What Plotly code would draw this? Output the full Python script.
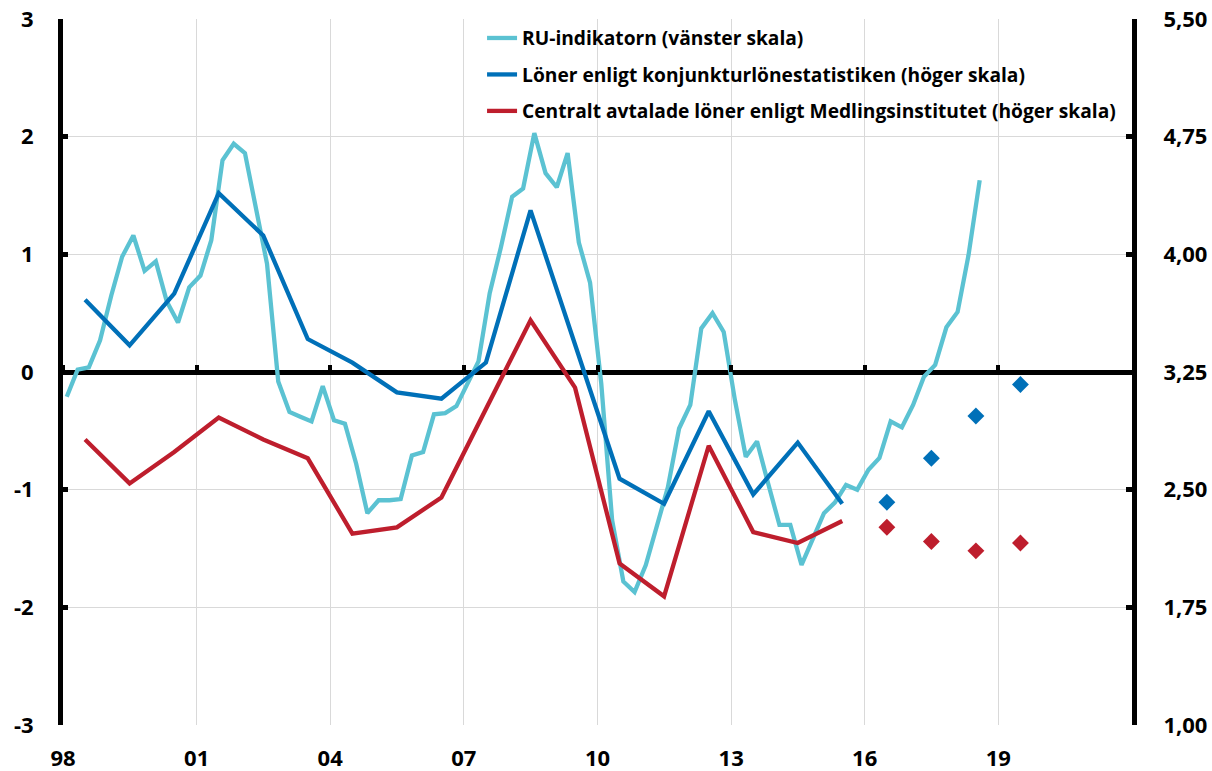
import pandas as pd
import plotly.graph_objects as go

# RU-indikatorn, kvartal 1998 K1 - 2018 K3 (vänster skala)
ru_indicator = [
    -0.21, 0.02, 0.04, 0.27, 0.65, 0.98, 1.16, 0.86, 0.94, 0.60,
    0.42, 0.72, 0.82, 1.12, 1.80, 1.94, 1.86, 1.40, 0.92, -0.08,
    -0.34, -0.38, -0.42, -0.12, -0.41, -0.44, -0.78, -1.20, -1.09, -1.09,
    -1.08, -0.71, -0.68, -0.36, -0.35, -0.29, -0.10, 0.09, 0.67, 1.06,
    1.49, 1.56, 2.03, 1.69, 1.57, 1.86, 1.10, 0.76, -0.10, -1.26,
    -1.78, -1.87, -1.64, -1.32, -0.98, -0.48, -0.28, 0.37, 0.50, 0.34,
    -0.24, -0.72, -0.59, -0.95, -1.30, -1.30, -1.64, -1.42, -1.20, -1.11,
    -0.96, -1.00, -0.83, -0.73, -0.42, -0.47, -0.28, -0.04, 0.06, 0.38,
    0.51, 0.99, 1.63,
]

# Årliga löneökningar, utfall 1998-2015 (höger skala)
wage_years = list(range(1998, 2016))
wages_kls = [
    3.71, 3.42, 3.75, 4.39, 4.12, 3.46, 3.31, 3.12, 3.08, 3.31,
    4.28, 3.43, 2.57, 2.41, 3.00, 2.47, 2.80, 2.41,
]
wages_mi = [
    2.82, 2.54, 2.74, 2.96, 2.82, 2.70, 2.22, 2.26, 2.45, 3.01,
    3.58, 3.15, 2.03, 1.82, 2.78, 2.23, 2.16, 2.30,
]

# Prognoser 2016-2019 (höger skala)
forecast_years = [2016, 2017, 2018, 2019]
forecast_kls = [2.42, 2.70, 2.97, 3.17]
forecast_mi = [2.26, 2.17, 2.11, 2.16]

# Axelmarkeringar
x_tick_years = [1998, 2001, 2004, 2007, 2010, 2013, 2016, 2019]
x_tick_text = ["98", "01", "04", "07", "10", "13", "16", "19"]
left_ticks = [-3, -2, -1, 0, 1, 2, 3]
left_tick_text = ["-3", "-2", "-1", "0", "1", "2", "3"]
right_ticks = [1.00, 1.75, 2.50, 3.25, 4.00, 4.75, 5.50]

CYAN = "#5BC2D2"
BLUE = "#0070B8"
RED = "#BE1E2D"
FONT = "Open Sans"

quarter_dates = [
    p.start_time + pd.DateOffset(months=1)
    for p in pd.period_range("1998Q1", periods=len(ru_indicator), freq="Q")
]
year_mid = lambda ys: [pd.Timestamp(year=y, month=7, day=1) for y in ys]
tick_dates = [pd.Timestamp(year=y, month=1, day=1) for y in x_tick_years]
x_range = [pd.Timestamp("1998-01-01"), pd.Timestamp("2022-01-01")]

fig = go.Figure()

fig.add_trace(go.Scatter(
    x=quarter_dates, y=ru_indicator, mode="lines",
    line=dict(color=CYAN, width=4.3),
    name="RU-indikatorn (vänster skala)", legendgroup="a",
))
fig.add_trace(go.Scatter(
    x=year_mid(wage_years), y=wages_kls, mode="lines", yaxis="y2",
    line=dict(color=BLUE, width=4.3),
    name="Löner enligt konjunkturlönestatistiken (höger skala)", legendgroup="b",
))
fig.add_trace(go.Scatter(
    x=year_mid(wage_years), y=wages_mi, mode="lines", yaxis="y2",
    line=dict(color=RED, width=4.3),
    name="Centralt avtalade löner enligt Medlingsinstitutet (höger skala)", legendgroup="c",
))
fig.add_trace(go.Scatter(
    x=year_mid(forecast_years), y=forecast_kls, mode="markers", yaxis="y2",
    marker=dict(symbol="diamond", size=13, color=BLUE),
    showlegend=False,
))
fig.add_trace(go.Scatter(
    x=year_mid(forecast_years), y=forecast_mi, mode="markers", yaxis="y2",
    marker=dict(symbol="diamond", size=13, color=RED),
    showlegend=False,
))
# empty trace so the tick axis drawn along the zero line gets its own subplot
fig.add_trace(go.Scatter(x=[], y=[], xaxis="x2", yaxis="y", showlegend=False,
                         hoverinfo="skip"))

tick_font = dict(family=FONT, size=22, color="black", weight="bold")

fig.update_layout(
    width=1212, height=771,
    margin=dict(l=63, r=80, t=19, b=46, autoexpand=False),
    paper_bgcolor="white", plot_bgcolor="white",
    separators=", ",
    font=dict(family=FONT, color="black"),
    showlegend=True,
    legend=dict(
        x=0.392, y=1.0, xanchor="left", yanchor="top",
        bgcolor="rgba(0,0,0,0)",
        font=dict(family=FONT, size=19.2, color="black", weight="bold"),
        traceorder="grouped", tracegroupgap=8.5,
    ),
    xaxis=dict(
        type="date", range=x_range, automargin=False,
        tickvals=tick_dates, ticktext=x_tick_text,
        showgrid=True, gridcolor="#D9D9D9", gridwidth=1,
        showline=False, zeroline=False, ticks="",
        tickfont=tick_font, ticklabelstandoff=18,
    ),
    xaxis2=dict(
        type="date", range=x_range, overlaying="x", automargin=False,
        anchor="free", position=0.5, side="top",
        tickvals=tick_dates, showticklabels=False,
        ticks="outside", ticklen=7, tickwidth=4, tickcolor="black",
        showgrid=False, showline=False, zeroline=False,
    ),
    yaxis=dict(
        range=[-3, 3], tickvals=left_ticks, ticktext=left_tick_text,
        automargin=False,
        showgrid=True, gridcolor="#D9D9D9", gridwidth=1,
        zeroline=True, zerolinecolor="black", zerolinewidth=5,
        showline=True, linecolor="black", linewidth=5,
        ticks="inside", ticklen=5, tickwidth=5, tickcolor="black",
        tickfont=tick_font, ticklabelstandoff=20,
    ),
    yaxis2=dict(
        range=[1, 5.5], tickvals=right_ticks, tickformat=".2f",
        overlaying="y", side="right", anchor="x", automargin=False,
        showgrid=False, zeroline=False,
        showline=True, linecolor="black", linewidth=5,
        ticks="inside", ticklen=6, tickwidth=5, tickcolor="black",
        tickfont=tick_font, ticklabelstandoff=22,
    ),
)

fig.write_html("out.html")
